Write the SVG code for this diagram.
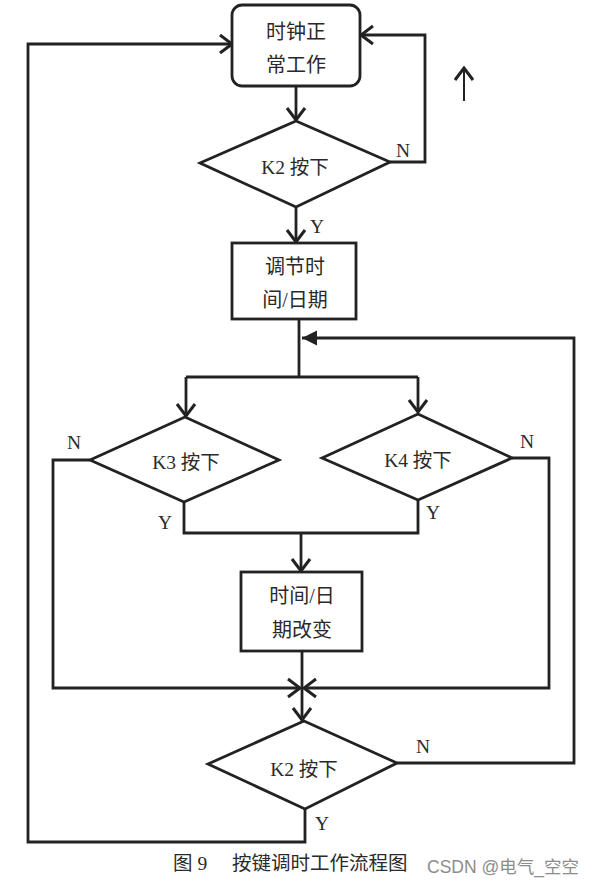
<svg xmlns="http://www.w3.org/2000/svg" width="594" height="885" viewBox="0 0 594 885">
<style>
.shape{fill:#fff;stroke:#222;stroke-width:2.8}
.ln{fill:none;stroke:#222;stroke-width:2.8}
.t{font-family:"Liberation Serif","Noto Sans CJK SC",serif;font-size:20px;fill:#2a2a2a;text-anchor:middle;dominant-baseline:central}
.lbl{font-family:"Liberation Serif","Noto Sans CJK SC",serif;font-size:19.5px;fill:#2a2a2a;text-anchor:middle;dominant-baseline:central}
.cap{font-family:"Liberation Serif","Noto Sans CJK SC",serif;font-size:19.5px;fill:#2a2a2a}
.wm{font-family:"Liberation Sans","Noto Sans CJK SC",sans-serif;font-size:17.5px;fill:#8c8c8c}
</style>
<defs>
<marker id="open" viewBox="-14 -11 16 22" markerWidth="16" markerHeight="22" refX="0" refY="0" orient="auto" markerUnits="userSpaceOnUse">
<path d="M-12,-9 L0,0 L-12,9" fill="none" stroke="#222" stroke-width="3"/>
</marker>
<marker id="solid" viewBox="-16 -9 17 18" markerWidth="17" markerHeight="18" refX="0" refY="0" orient="auto" markerUnits="userSpaceOnUse">
<path d="M-15,-7.5 L0,0 L-15,7.5 Z" fill="#222"/>
</marker>
</defs>

<g id="connectors">
<line class="ln" x1="296" y1="86" x2="296" y2="120" marker-end="url(#open)"/>
<polyline class="ln" points="390,162 425,162 425,35 361,35" marker-end="url(#open)"/>
<line class="ln" x1="296" y1="207" x2="296" y2="242" marker-end="url(#open)"/>
<polyline class="ln" points="299,319 299,377"/>
<polyline class="ln" points="186,377 418,377"/>
<line class="ln" x1="186" y1="377" x2="186" y2="416" marker-end="url(#open)"/>
<line class="ln" x1="418" y1="377" x2="418" y2="412" marker-end="url(#open)"/>
<polyline class="ln" points="397,763 574,763 574,338 302,338" marker-end="url(#solid)"/>
<polyline class="ln" points="90,460 53,460 53,688 300,688" marker-end="url(#open)"/>
<polyline class="ln" points="512,458 549,458 549,688 304,688" marker-end="url(#open)"/>
<polyline class="ln" points="184,502 184,533 418,533 418,500"/>
<line class="ln" x1="301" y1="533" x2="301" y2="571" marker-end="url(#open)"/>
<line class="ln" x1="302" y1="651" x2="302" y2="688"/>
<line class="ln" x1="302" y1="688" x2="302" y2="720" marker-end="url(#open)"/>
<polyline class="ln" points="305,809 305,842 28,842 28,44 232,44" marker-end="url(#open)"/>
<line x1="464" y1="101" x2="464" y2="68" stroke="#222" stroke-width="2" marker-end="url(#open)"/>
<text class="lbl" x="403" y="150">N</text>
<text class="lbl" x="317" y="226">Y</text>
<text class="lbl" x="74" y="442">N</text>
<text class="lbl" x="527" y="441">N</text>
<text class="lbl" x="165" y="522">Y</text>
<text class="lbl" x="433" y="512">Y</text>
<text class="lbl" x="423" y="746">N</text>
<text class="lbl" x="322" y="823">Y</text>
</g>

<g id="clock-normal">
<rect class="shape" x="232" y="5" width="128" height="81" rx="10"/>
<text class="t" x="296" y="32">时钟正</text>
<text class="t" x="296" y="65">常工作</text>
</g>

<g id="k2-first">
<polygon class="shape" points="200,163 296,121 390,162 296,207"/>
<text class="lbl" x="295" y="167">K2 按下</text>
</g>

<g id="adjust-time">
<rect class="shape" x="232" y="243" width="124" height="76"/>
<text class="t" x="295" y="267">调节时</text>
<text class="t" x="295" y="300">间/日期</text>
</g>

<g id="k3">
<polygon class="shape" points="90,460 185,417 279,460 184,502"/>
<text class="lbl" x="186" y="462">K3 按下</text>
</g>

<g id="k4">
<polygon class="shape" points="322,458 418,414 512,458 418,500"/>
<text class="lbl" x="418" y="460">K4 按下</text>
</g>

<g id="change-time">
<rect class="shape" x="241" y="572" width="121" height="79"/>
<text class="t" x="302" y="596">时间/日</text>
<text class="t" x="302" y="630">期改变</text>
</g>

<g id="k2-second">
<polygon class="shape" points="208,764 304,721 397,763 305,809"/>
<text class="lbl" x="304" y="769">K2 按下</text>
</g>

<g id="caption">
<text class="cap" x="173" y="870">图 9</text>
<text class="cap" x="232" y="870">按键调时工作流程图</text>
<text class="wm" x="427" y="873">CSDN @电气_空空</text>
</g>
</svg>
